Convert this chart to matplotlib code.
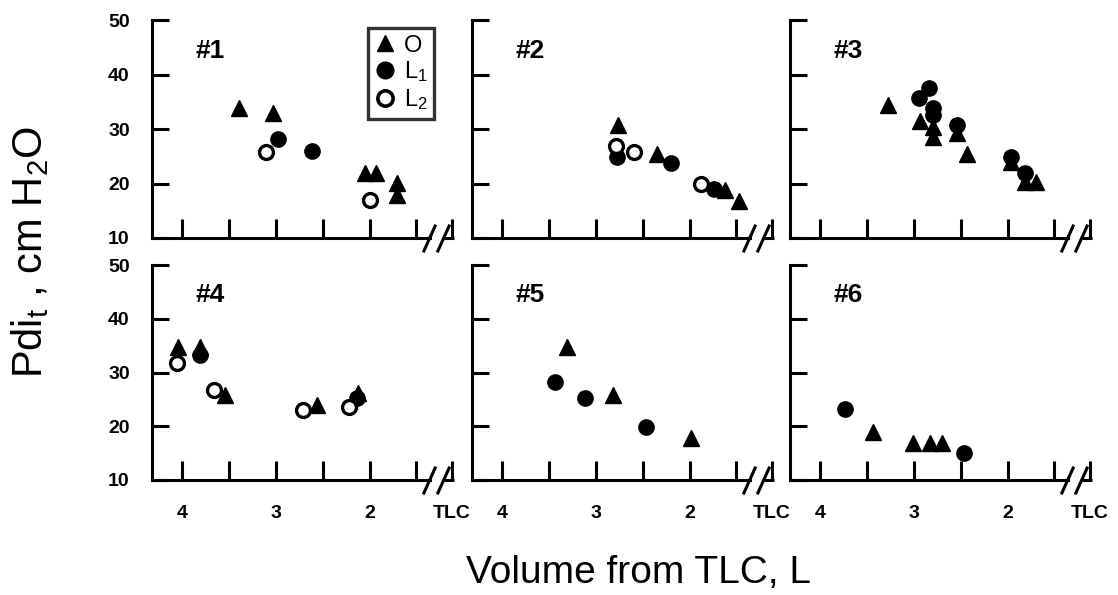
import matplotlib
matplotlib.use('Agg')
import matplotlib.pyplot as plt
from matplotlib.lines import Line2D

plt.rcParams['font.family'] = ['Liberation Sans', 'DejaVu Sans']
plt.rcParams['mathtext.fontset'] = 'custom'
plt.rcParams['mathtext.rm'] = 'Liberation Sans'
plt.rcParams['mathtext.it'] = 'Liberation Sans'

# data: volume from TLC (L) and Pdi_t (cm H2O), one inner list per subject #1..#6
O_vol = [[3.39, 3.03, 2.05, 1.93, 1.71, 1.71],
         [2.76, 2.35, 1.62, 1.47],
         [3.28, 2.93, 2.79, 2.79, 2.54, 2.43, 1.96, 1.81, 1.70],
         [4.04, 3.81, 3.54, 2.56, 2.12],
         [3.31, 2.82, 1.99],
         [3.43, 3.01, 2.83, 2.70]]
O_pdi = [[33.8, 32.9, 21.9, 21.9, 20.1, 17.9],
         [30.7, 25.5, 18.8, 16.7],
         [34.4, 31.5, 30.4, 28.5, 29.3, 25.4, 24.0, 20.3, 20.3],
         [34.8, 34.8, 25.8, 24.0, 26.2],
         [34.8, 25.8, 17.8],
         [19.0, 16.8, 16.8, 16.8]]

L1_vol = [[2.98, 2.61],
          [2.77, 2.20, 1.74],
          [2.84, 2.94, 2.79, 2.79, 2.54, 1.96, 1.81],
          [3.81, 2.13],
          [3.43, 3.12, 2.47],
          [3.73, 2.47]]
L1_pdi = [[28.1, 26.0],
          [24.9, 23.8, 19.0],
          [37.6, 35.6, 33.8, 32.6, 30.7, 24.8, 21.9],
          [33.3, 25.2],
          [28.3, 25.2, 19.9],
          [23.2, 15.0]]

L2_vol = [[3.10, 2.00],
          [2.78, 2.59, 1.88],
          [],
          [4.05, 3.66, 2.71, 2.22],
          [],
          []]
L2_pdi = [[25.8, 17.0],
          [26.9, 25.7, 19.9],
          [],
          [31.8, 26.7, 23.0, 23.6],
          [],
          []]

panel_names = ['#1', '#2', '#3', '#4', '#5', '#6']
x_ticks = [4, 3.5, 3, 2.5, 2, 1.5]
x_labels = ['4', '', '3', '', '2', '']
tlc_pos = 1.12
y_ticks = [10, 20, 30, 40, 50]

W, H = 1118, 595
fig = plt.figure(figsize=(W / 100, H / 100), dpi=100)

lefts = [152, 472, 790]
rows = [(20, 238), (265, 480)]
lw = 2.2

for i in range(6):
    r, c = divmod(i, 3)
    top, bot = rows[r]
    ax = fig.add_axes([lefts[c] / W, 1 - bot / H, 302 / W, (bot - top) / H])
    ax.set_xlim(4.32, 1.10)
    ax.set_ylim(10, 50)

    ax.plot(O_vol[i], O_pdi[i], linestyle='none', marker='^', ms=11, color='black', clip_on=False)
    ax.plot(L1_vol[i], L1_pdi[i], linestyle='none', marker='o', ms=11, color='black', clip_on=False)
    ax.plot(L2_vol[i], L2_pdi[i], linestyle='none', marker='o', ms=10, mfc='white',
            mec='black', mew=2.4, clip_on=False)

    for s in ['top', 'right']:
        ax.spines[s].set_visible(False)
    for s in ['left', 'bottom']:
        ax.spines[s].set_linewidth(lw)
    ax.spines['bottom'].set_bounds(4.32, 1.36)
    ax.plot([1.21, 1.10], [0, 0], color='black', lw=lw, transform=ax.get_xaxis_transform(),
            clip_on=False, solid_capstyle='butt')
    # axis break marks
    ax.plot([1.37, 1.22], [0, 0], linestyle='none', marker=[(-0.45, -1), (0.45, 1)], ms=20,
            mew=2.2, color='black', transform=ax.get_xaxis_transform(), clip_on=False)

    ax.set_xticks(x_ticks + [tlc_pos])
    if r == 1:
        ax.set_xticklabels(x_labels + ['TLC'], fontsize=14, fontweight='bold')
    else:
        ax.set_xticklabels([])
    ax.set_yticks(y_ticks)
    if c == 0:
        ax.set_yticklabels([str(v) for v in y_ticks], fontsize=14, fontweight='bold')
    else:
        ax.set_yticklabels([])
    ax.tick_params(axis='x', direction='in', length=14, width=lw, pad=18)
    ax.tick_params(axis='y', direction='in', length=12, width=lw, pad=16)

    ax.text(0.143, 0.86, panel_names[i], transform=ax.transAxes, fontsize=19,
            fontweight='bold', ha='left', va='center')

    if i == 0:
        handles = [Line2D([], [], linestyle='none', marker='^', ms=12, color='black'),
                   Line2D([], [], linestyle='none', marker='o', ms=12, color='black'),
                   Line2D([], [], linestyle='none', marker='o', ms=11, mfc='white',
                          mec='black', mew=2.6)]
        leg = ax.legend(handles, ['O', 'L$_1$', 'L$_2$'], loc='upper right',
                        bbox_to_anchor=(0.935, 0.965), fontsize=17, frameon=True,
                        fancybox=False, handlelength=0.8, handletextpad=0.4,
                        labelspacing=0.12, borderpad=0.3, borderaxespad=0)
        leg.get_frame().set_edgecolor('black')
        leg.get_frame().set_linewidth(2.4)

fig.text(30 / W, 1 - 252 / H, r'Pdi$_\mathrm{t}$ , cm H$_2$O', rotation=90,
         fontsize=30, ha='center', va='center')
fig.text(638 / W, 1 - 573 / H, 'Volume from TLC, L', fontsize=28, ha='center', va='center')

fig.savefig('out.png', dpi=100)
